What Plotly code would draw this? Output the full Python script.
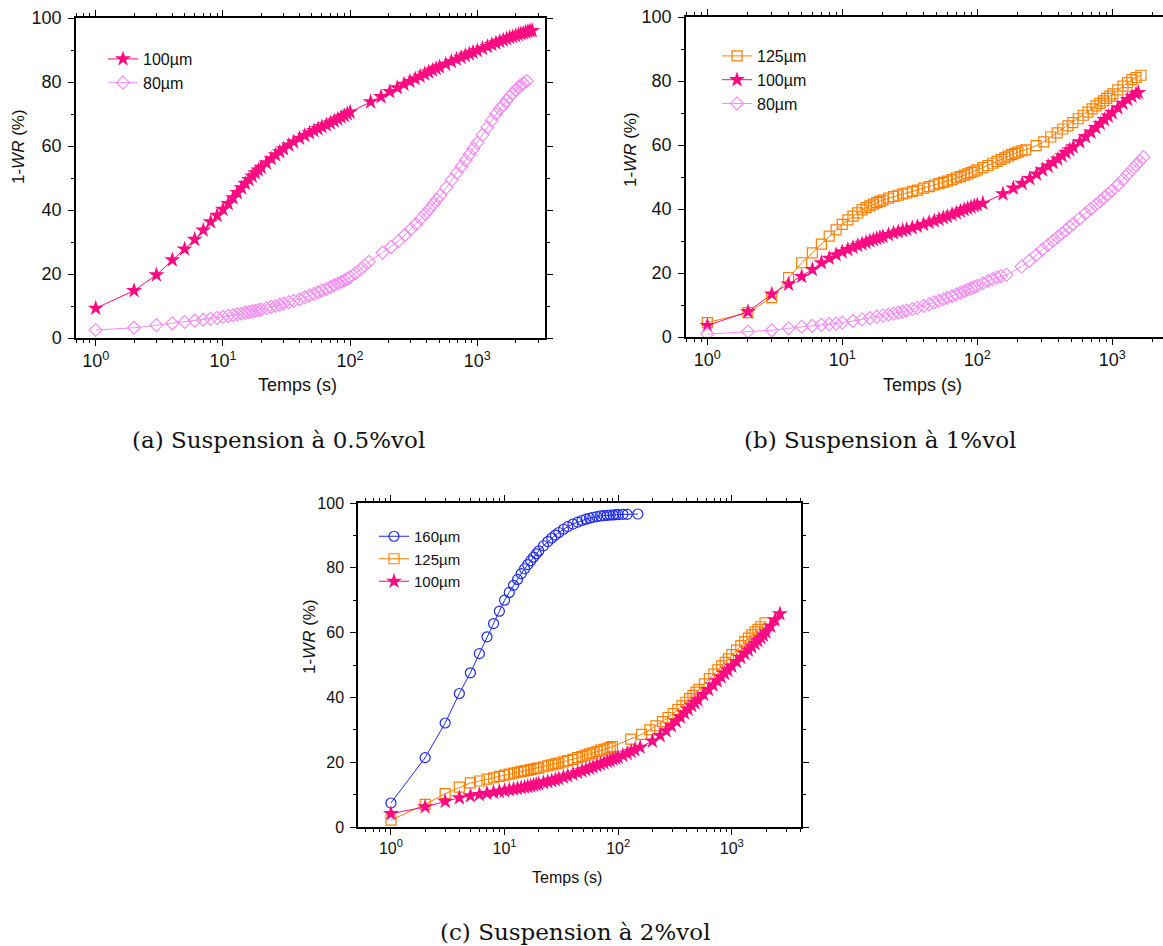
import plotly.graph_objects as go

W, H = 1163, 946

# ---------------- data ----------------
# Panel (a) : Suspension 0.5 %vol
a100_t = [1, 2, 3, 4, 5, 6, 7, 8, 9, 10, 11, 12, 13, 14, 15, 16, 17, 18, 19, 20,
          22, 24, 26, 28, 30, 33, 36, 40, 44, 48, 52, 56, 60, 65, 70, 75, 80, 85, 90, 95, 100,
          145, 175, 205, 235, 265, 295, 325, 355, 385, 415, 445, 475, 505, 565, 625, 685, 745,
          805, 865, 925, 1000, 1100, 1200, 1300, 1400, 1500, 1600, 1700, 1800, 1900, 2000,
          2100, 2200, 2300, 2400, 2500, 2600, 2700]
a100_y = [9.3, 14.8, 19.7, 24.4, 27.8, 30.8, 33.7, 36.3, 38.3, 40.2, 42.0, 43.8, 45.4, 46.9, 48.3,
          49.5, 50.6, 51.6, 52.5, 53.3,
          54.7, 56.0, 57.2, 58.2, 59.1, 60.3, 61.3, 62.4, 63.3, 64.1, 64.8, 65.4, 66.0, 66.6, 67.2,
          67.8, 68.4, 69.0, 69.5, 70.1, 70.6,
          73.8, 75.4, 77.0, 78.2, 79.3, 80.2, 81.0, 81.8, 82.5, 83.1, 83.7, 84.2, 84.7, 85.6, 86.4,
          87.1, 87.7, 88.3, 88.8, 89.3, 89.8, 90.5, 91.1, 91.7, 92.2, 92.7, 93.1, 93.5, 93.9, 94.2,
          94.5, 94.8, 95.1, 95.3, 95.6, 95.8, 96.0, 96.1]
a80_t = [1, 2, 3, 4, 5, 6, 7, 8, 9, 10, 11, 12, 13, 14, 15, 16, 17, 18, 19, 20,
         22, 24, 26, 28, 30, 33, 36, 40, 44, 48, 52, 56, 60, 65, 70, 75, 80, 85, 90, 95, 100,
         110, 120, 130, 140,
         180, 210, 240, 270, 300, 330, 360, 390, 420, 450, 480, 510, 570, 630, 690, 750, 810,
         870, 930, 1000, 1100, 1200, 1300, 1400, 1500, 1600, 1700, 1800, 1900, 2000, 2100,
         2200, 2300, 2450]
a80_y = [2.5, 3.2, 4.0, 4.6, 5.0, 5.4, 5.7, 6.0, 6.3, 6.6, 6.9, 7.1, 7.4, 7.6, 7.9, 8.1, 8.3, 8.5,
         8.7, 8.9,
         9.3, 9.7, 10.0, 10.4, 10.7, 11.2, 11.6, 12.1, 12.7, 13.3, 13.8, 14.3, 14.8, 15.3, 15.9,
         16.5, 17.0, 17.5, 18.0, 18.5, 19.0,
         20.2, 21.4, 22.6, 23.8,
         26.7, 28.5, 30.3, 32.2, 34.0, 35.6, 37.3, 38.8, 40.3, 41.8, 43.2, 44.5, 47.0, 49.4, 51.6,
         53.6, 55.5, 57.4, 59.2, 61.0, 63.5, 65.8, 68.0, 70.0, 71.6, 72.8, 74.2, 75.4, 76.5,
         77.5, 78.3, 79.0, 79.6, 80.3]

# Panel (b) : Suspension 1 %vol
b125_t = [1, 2, 3, 4, 5, 6, 7, 8, 9, 10, 11, 12, 13, 14, 15, 16, 17, 18, 19, 20,
          22, 24, 26, 28, 30, 33, 36, 40, 44, 48, 52, 56, 60, 65, 70, 75, 80, 85, 90, 95, 100,
          110, 120, 130, 140, 150, 160, 170, 180, 190, 200, 214, 228,
          273, 311, 350, 390, 430, 470, 510, 560, 610, 660, 710, 760, 810, 860, 910, 960,
          1010, 1100, 1200, 1300, 1400, 1500, 1630]
b125_y = [4.5, 7.6, 12.3, 18.6, 23.2, 26.3, 29.0, 31.5, 33.5, 35.2, 36.6, 37.8, 38.8, 39.7, 40.4,
          41.0, 41.5, 42.0, 42.4, 42.8,
          43.4, 43.9, 44.3, 44.7, 45.0, 45.5, 45.9, 46.5, 47.0, 47.5, 47.9, 48.3, 48.7, 49.2, 49.7,
          50.1, 50.6, 51.0, 51.4, 51.8, 52.2,
          52.9, 53.6, 54.3, 54.9, 55.5, 56.0, 56.5, 57.0, 57.4, 57.8, 58.2, 58.5,
          59.8, 61.0, 62.5, 63.8, 65.0, 66.0, 67.0, 68.2, 69.3, 70.3, 71.3, 72.2, 73.0, 73.8,
          74.6, 75.3, 76.0, 77.2, 78.4, 79.5, 80.4, 81.1, 81.8]
b100_t = [1, 2, 3, 4, 5, 6, 7, 8, 9, 10, 11, 12, 13, 14, 15, 16, 17, 18, 19, 20,
          22, 24, 26, 28, 30, 33, 36, 40, 44, 48, 52, 56, 60, 65, 70, 75, 80, 85, 90, 95, 100, 110,
          155, 185, 215, 245, 275, 305, 335, 365, 395, 425, 455, 485, 515, 575, 635, 695, 755,
          815, 875, 935, 1000, 1100, 1200, 1300, 1400, 1500, 1560]
b100_y = [3.6, 7.9, 13.4, 16.5, 18.9, 21.1, 23.2, 24.6, 25.7, 26.6, 27.3, 28.0, 28.6, 29.1, 29.6,
          30.0, 30.4, 30.8, 31.1, 31.4,
          32.0, 32.5, 32.9, 33.3, 33.6, 34.1, 34.6, 35.2, 35.8, 36.3, 36.8, 37.3, 37.7, 38.3, 38.8,
          39.3, 39.8, 40.2, 40.6, 41.0, 41.3, 41.8,
          44.7, 46.5, 48.0, 49.5, 50.9, 52.2, 53.4, 54.5, 55.6, 56.6, 57.6, 58.5, 59.4, 61.0,
          62.6, 64.0, 65.4, 66.7, 67.9, 69.0, 70.1, 71.6, 73.0, 74.2, 75.2, 76.0, 76.4]
b80_t = [1, 2, 3, 4, 5, 6, 7, 8, 9, 10, 12, 14, 16, 18, 20,
         22, 24, 26, 28, 30, 33, 36, 40, 44, 48, 52, 56, 60, 65, 70, 75, 80, 85, 90, 95, 100,
         110, 120, 130, 140, 150, 165,
         213, 243, 273, 303, 333, 363, 393, 423, 453, 483, 513, 573, 633, 693, 753, 813, 873,
         933, 1000, 1100, 1200, 1300, 1400, 1500, 1600, 1700]
b80_y = [0.9, 1.7, 2.1, 2.7, 3.2, 3.5, 3.8, 4.0, 4.2, 4.5, 5.0, 5.5, 5.9, 6.3, 6.7,
         7.0, 7.3, 7.6, 7.9, 8.2, 8.7, 9.1, 9.7, 10.2, 10.8, 11.3, 11.8, 12.2, 12.8, 13.3, 13.8,
         14.3, 14.8, 15.2, 15.6, 16.0,
         16.8, 17.5, 18.1, 18.6, 19.0, 19.4,
         22.0, 23.8, 25.6, 27.3, 28.7, 30.0, 31.2, 32.3, 33.4, 34.4, 35.3, 37.0, 38.6, 40.0,
         41.3, 42.5, 43.6, 44.7, 45.8, 47.5, 49.2, 50.8, 52.3, 53.7, 55.0, 56.2]

# Panel (c) : Suspension 2 %vol
c160_t = [1, 2, 3, 4, 5, 6, 7, 8, 9, 10, 11, 12, 13, 14, 15, 16, 17, 18, 19, 20,
          22, 24, 26, 28, 30, 33, 36, 40, 44, 48, 52, 56, 60, 65, 70, 75, 80, 85, 90, 95, 100,
          110, 120, 149]
c160_y = [7.4, 21.4, 32.1, 41.2, 47.6, 53.5, 58.7, 62.8, 66.6, 70.0, 72.4, 74.6, 76.4, 78.2, 79.7,
          81.0, 82.2, 83.3, 84.3, 85.2,
          86.8, 88.1, 89.2, 90.1, 90.9, 91.9, 92.7, 93.5, 94.1, 94.6, 95.0, 95.3, 95.6, 95.8, 96.0,
          96.1, 96.2, 96.3, 96.3, 96.4, 96.4,
          96.5, 96.5, 96.6]
c125_t = [1, 2, 3, 4, 5, 6, 7, 8, 9, 10, 11, 12, 13, 14, 15, 16, 17, 18, 19, 20,
          22, 24, 26, 28, 30, 33, 36, 40, 44, 48, 52, 56, 60, 65, 70, 75, 80, 85, 89,
          129, 161, 190, 215, 245, 275, 305, 335, 365, 395, 425, 455, 485, 515, 575, 635, 695,
          755, 815, 875, 935, 1000, 1100, 1200, 1300, 1400, 1500, 1600, 1700, 1800, 1960]
c125_y = [2.1, 7.0, 10.3, 12.3, 13.6, 14.2, 14.8, 15.2, 15.6, 16.0, 16.3, 16.6, 16.9, 17.1, 17.3,
          17.5, 17.7, 17.9, 18.1, 18.2,
          18.6, 18.9, 19.2, 19.5, 19.7, 20.1, 20.5, 20.9, 21.4, 21.8, 22.2, 22.6, 22.9, 23.3, 23.7,
          24.0, 24.3, 24.6, 24.8,
          27.1, 28.6, 30.0, 31.2, 32.5, 33.8, 35.0, 36.2, 37.4, 38.5, 39.6, 40.6, 41.6, 42.5,
          44.2, 45.8, 47.2, 48.5, 49.7, 50.8, 51.9, 53.2, 54.6, 56.0, 57.2, 58.3, 59.3, 60.2,
          61.0, 61.8, 63.0]
c100_t = [1, 2, 3, 4, 5, 6, 7, 8, 9, 10, 11, 12, 13, 14, 15, 16, 17, 18, 19, 20,
          22, 24, 26, 28, 30, 33, 36, 40, 44, 48, 52, 56, 60, 65, 70, 75, 80, 85, 90, 95, 100,
          110, 120, 130, 140, 156,
          200, 234, 264, 294, 324, 354, 384, 414, 444, 474, 504, 564, 624, 684, 744, 804, 864,
          924, 1000, 1100, 1200, 1300, 1400, 1500, 1600, 1700, 1800, 1900, 2000, 2200, 2400, 2650]
c100_y = [4.1, 6.2, 7.9, 9.0, 9.6, 10.0, 10.4, 10.7, 11.0, 11.2, 11.5, 11.7, 11.9, 12.1, 12.3,
          12.5, 12.7, 12.9, 13.1, 13.3,
          13.7, 14.0, 14.3, 14.6, 14.9, 15.4, 15.8, 16.3, 16.8, 17.3, 17.7, 18.1, 18.5, 19.0, 19.4,
          19.8, 20.2, 20.5, 20.9, 21.2, 21.5,
          22.1, 22.7, 23.3, 23.8, 24.6,
          26.5, 28.2, 29.7, 31.2, 32.6, 33.9, 35.2, 36.3, 37.4, 38.3, 39.2, 40.9, 42.4, 43.8,
          45.1, 46.3, 47.4, 48.4, 49.6, 51.0, 52.3, 53.5, 54.6, 55.6, 56.6, 57.5, 58.4, 59.2,
          60.2, 62.0, 63.9, 65.8]

x_tickvals = [1, 10, 100, 1000]
x_ticktext = ["10<sup>0</sup>", "10<sup>1</sup>", "10<sup>2</sup>", "10<sup>3</sup>"]
captions = ["(a) Suspension à 0.5%vol", "(b) Suspension à 1%vol", "(c) Suspension à 2%vol"]

# ---------------- styles ----------------
PINK = "#FF0A80"
VIOLET = "#F48CF4"
ORANGE = "#FF8000"
BLUE = "#1F2BF0"
SANS = "Liberation Sans, Arial, sans-serif"
SERIF = "DejaVu Serif, serif"

fig = go.Figure()


def add(t, y, name, color, symbol, size, ax, leg, lw=1.2):
    fig.add_trace(go.Scatter(
        x=t, y=y, name=name, mode="lines+markers",
        line=dict(color=color, width=1),
        marker=dict(symbol=symbol, size=size, color=color,
                    line=dict(color=color, width=lw)),
        xaxis="x" + ax, yaxis="y" + ax, legend=leg))


# panel a
add(a100_t, a100_y, "100µm", PINK, "star", 12, "", "legend", 0)
add(a80_t, a80_y, "80µm", VIOLET, "diamond-open", 10, "", "legend")
# panel b
add(b125_t, b125_y, "125µm", ORANGE, "square-open", 10, "2", "legend2")
add(b100_t, b100_y, "100µm", PINK, "star", 12, "2", "legend2", 0)
add(b80_t, b80_y, "80µm", VIOLET, "diamond-open", 10, "2", "legend2")
# panel c
add(c160_t, c160_y, "160µm", BLUE, "circle-open", 10, "3", "legend3")
add(c125_t, c125_y, "125µm", ORANGE, "square-open", 10, "3", "legend3")
add(c100_t, c100_y, "100µm", PINK, "star", 12, "3", "legend3", 0)

panels = [
    dict(x0=76, x1=545, y0=18, y1=338, xr=[-0.155, 3.532], tf=18, mirror_y=True),
    dict(x0=686, x1=1163, y0=17, y1=337, xr=[-0.158, 3.376], tf=18, mirror_y=False),
    dict(x0=358, x1=801, y0=503, y1=827, xr=[-0.29, 3.609], tf=16, mirror_y=True),
]
minor_x = [0.5, 0.6, 0.7, 0.8, 0.9] + [m * 10 ** k for k in range(4) for m in range(2, 10)]

layout = {}
for i, p in enumerate(panels):
    sfx = "" if i == 0 else str(i + 1)
    tfont = dict(family=SANS, size=p["tf"], color="#111111")
    layout["xaxis" + sfx] = dict(
        type="log", range=p["xr"], domain=[p["x0"] / W, p["x1"] / W],
        anchor="y" + sfx, showline=True, linecolor="black", linewidth=1.5,
        mirror="ticks", ticks="outside", ticklen=6, tickwidth=1.2, tickcolor="black",
        tickmode="array", tickvals=x_tickvals, ticktext=x_ticktext,
        showgrid=False, zeroline=False, tickfont=tfont, automargin=False,
        minor=dict(ticks="outside", ticklen=3, tickwidth=1, tickcolor="black",
                   tickvals=minor_x, showgrid=False),
    )
    layout["yaxis" + sfx] = dict(
        range=[0, 100], domain=[1 - p["y1"] / H, 1 - p["y0"] / H],
        anchor="x" + sfx, showline=True, linecolor="black", linewidth=1.5,
        mirror="ticks" if p["mirror_y"] else False,
        ticks="outside", ticklen=6, tickwidth=1.2, tickcolor="black",
        tickmode="array", tickvals=[0, 20, 40, 60, 80, 100], ticklabelstandoff=3,
        showgrid=False, zeroline=False, tickfont=tfont, automargin=False,
        minor=dict(ticks="outside", ticklen=3, tickwidth=1, tickcolor="black",
                   tickvals=[10, 30, 50, 70, 90], showgrid=False),
    )

ann = []
# axis titles
for xc, yc, fs in [(297, 385, 18), (922, 385, 18), (567, 877, 16)]:
    ann.append(dict(x=xc / W, y=1 - yc / H, xref="paper", yref="paper", text="Temps (s)",
                    showarrow=False, font=dict(family=SANS, size=fs, color="#111111"),
                    xanchor="center", yanchor="middle"))
for xc, yc, fs in [(19, 147, 17), (630, 150, 17), (309, 637, 17)]:
    ann.append(dict(x=xc / W, y=1 - yc / H, xref="paper", yref="paper",
                    text="1-<i>WR</i> (%)", textangle=-90,
                    showarrow=False, font=dict(family=SANS, size=fs, color="#111111"),
                    xanchor="center", yanchor="middle"))
for (xc, yc), txt in zip([(278, 440), (880, 440), (575, 932)], captions):
    ann.append(dict(x=xc / W, y=1 - yc / H, xref="paper", yref="paper", text=txt,
                    showarrow=False, font=dict(family=SERIF, size=23, color="#111111"),
                    xanchor="center", yanchor="middle"))


def leg(xp, yp, fs):
    return dict(x=xp / W, y=1 - yp / H, xanchor="left", yanchor="top",
                bgcolor="rgba(0,0,0,0)", borderwidth=0,
                font=dict(family=SANS, size=fs, color="#111111"), tracegroupgap=0,
                itemwidth=30)


fig.update_layout(
    width=W, height=H, margin=dict(l=0, r=0, t=0, b=0, autoexpand=False),
    paper_bgcolor="white", plot_bgcolor="white",
    font=dict(family=SANS, size=16, color="#111111"),
    legend=leg(103, 42, 16), legend2=leg(717, 39, 16), legend3=leg(374, 520, 15),
    annotations=ann, showlegend=True,
    **layout,
)

fig.write_html(
    "out.html",
    config={"displayModeBar": False},
    post_script="document.body.style.margin='0';document.body.style.padding='0';"
                "document.body.style.overflow='hidden';"
                "document.documentElement.style.overflow='hidden';",
)
